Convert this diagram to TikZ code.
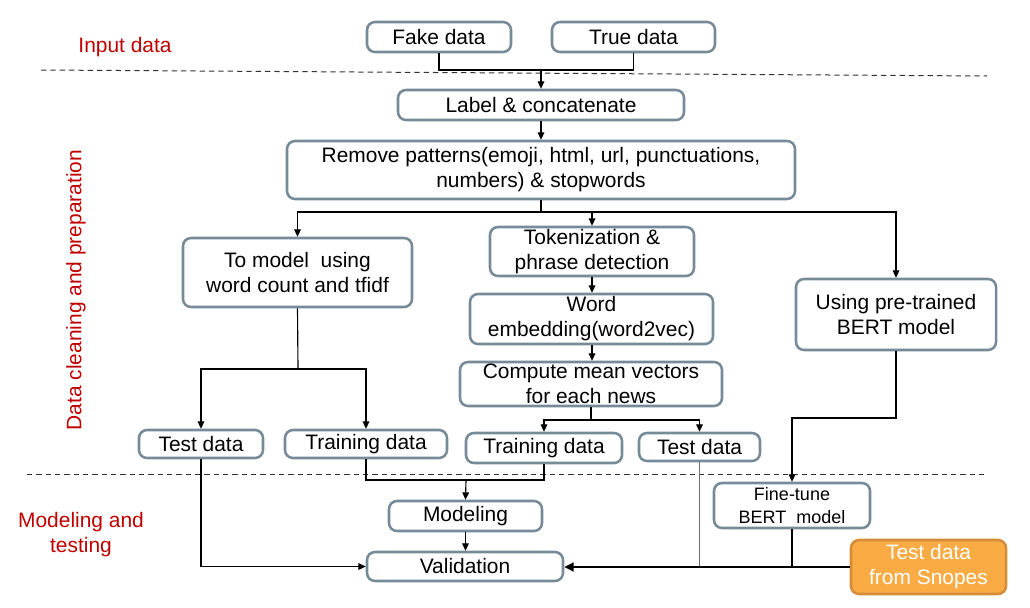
\documentclass[tikz,border=0pt]{standalone}
\usepackage{fontspec}
\setmainfont{Liberation Sans}
\usetikzlibrary{arrows.meta,calc}
\definecolor{boxborder}{RGB}{118,138,152}
\definecolor{labelred}{RGB}{192,0,0}
\definecolor{snopesfill}{RGB}{251,171,68}
\definecolor{snopesborder}{RGB}{212,142,58}
\definecolor{conngray}{RGB}{110,110,110}
\newcommand\mybox[7][]{\node[box,#1,minimum width={(#5-#3)*0.75pt},minimum height={(#6-#4)*0.75pt}] (#2) at ({(#3+#5)/2},{(#4+#6)/2}) {#7};}
\begin{document}
\begin{tikzpicture}[x=0.75pt,y=-0.75pt,
  box/.style={draw=boxborder,line width=1.9pt,rounded corners=6pt,inner sep=0pt,align=center,
    font=\fontsize{15.7}{18.75}\selectfont,text=black},
  smallbox/.style={font=\fontsize{13.5}{17}\selectfont},
  snopesbox/.style={fill=snopesfill,draw=snopesborder,text=white},
  conn/.style={line width=0.85pt,black},
  arr/.style={conn,-{Triangle[length=5.5pt,width=5pt]}},
  grayconn/.style={line width=0.85pt,conngray},
  thickarr/.style={line width=2.2pt,black,-{Triangle[length=7pt,width=6.5pt]}},
  sep/.style={line width=0.75pt,black!80,dash pattern=on 4pt off 3pt},
  sectionlabel/.style={text=labelred,font=\fontsize{15.7}{18.75}\selectfont,align=center,inner sep=0pt}]
\useasboundingbox (0,0) rectangle (1030,607);

% separators
\draw[sep] (41,70) -- (987,76);
\draw[sep] (27,474) -- (988,474);

% section labels
\node[sectionlabel] (lblinput) at (125,47) {Input data};
\node[sectionlabel,rotate=90] (lblclean) at (76,290) {Data cleaning and preparation};
\node[sectionlabel] (lblmodel) at (81,535) {Modeling and\\testing};

% boxes
\mybox{fake}{367}{22}{511}{52}{Fake data}
\mybox{true}{552}{22}{715}{52}{True data}
\mybox{label}{398}{90}{684}{120}{Label \& concatenate}
\mybox{remove}{287}{141}{795}{199}{Remove patterns(emoji, html, url, punctuations,\\numbers) \& stopwords}
\mybox{tomodel}{183}{238}{412}{307}{To model~ using\\word count and tfidf}
\mybox{token}{490}{227}{694}{276}{Tokenization \&\\phrase detection}
\mybox{wordemb}{470}{294}{713}{344}{Word\\embedding(word2vec)}
\mybox{compute}{460}{362}{722}{406}{Compute mean vectors\\for each news}
\mybox{bert}{796}{279}{996}{350}{Using pre-trained\\BERT model}
\mybox{testL}{139}{430}{263}{458}{Test data}
\mybox{trainL}{285}{430}{447}{458}{Training data}
\mybox{trainM}{466}{433}{622}{463}{Training data}
\mybox{testM}{639}{433}{760}{461}{Test data}
\mybox[smallbox]{finetune}{714}{483}{870}{528}{Fine-tune\\BERT~ model}
\mybox{modeling}{389}{501}{542}{531}{Modeling}
\mybox{validation}{367}{552}{563}{581}{Validation}
\mybox[snopesbox]{snopes}{851}{540}{1006}{594}{Test data\\from Snopes}

% junctions
\coordinate (j1) at (541,70);
\coordinate (j2) at (541,212);
\coordinate (j3) at (298,369);
\coordinate (j4) at (591,420);
\coordinate (j5) at (792,418);
\coordinate (j6) at (466,480);

% connectors
\draw[conn] (fake.south) |- (j1) -| (true.south);
\draw[arr] (j1) -- (label.north);
\draw[arr] (label.south) -- (label.south |- remove.north);
\draw[conn] (remove.south) -- (j2);
\draw[arr] (j2) -| (tomodel.north);
\draw[arr] (j2) -| (token.north);
\draw[arr] (j2) -| (bert.north);
\draw[arr] (token.south) -- (token.south |- wordemb.north);
\draw[arr] (token.south |- wordemb.south) -- (token.south |- compute.north);
\draw[conn] (tomodel.south) -- (j3);
\draw[arr] (j3) -| (testL.north);
\draw[arr] (j3) -| (trainL.north);
\draw[conn] (compute.south) -- (j4);
\draw[arr] (j4) -| (trainM.north);
\draw[arr] (j4) -| (testM.north);
\draw[arr] (bert.south) |- (j5) -- (finetune.north);
\draw[conn] (trainL.south) |- (trainM.south |- j6) -- (trainM.south);
\draw[arr] (j6) -- (modeling.north);
\draw[arr] (modeling.south) -- (modeling.south |- validation.north);
\draw[arr] (testL.south) |- (validation.west);
\draw[grayconn] (testM.south) -- (testM.south |- snopes.west);
\draw[conn] (finetune.south) -- (finetune.south |- snopes.west);
\draw[thickarr] (snopes.west) -- (snopes.west -| validation.east);
\end{tikzpicture}
\end{document}
